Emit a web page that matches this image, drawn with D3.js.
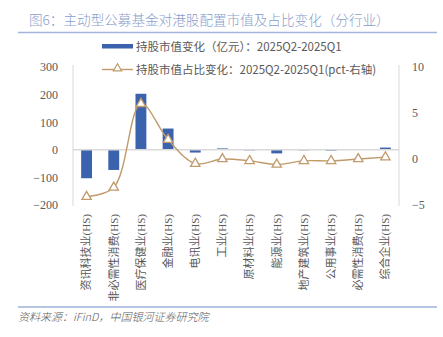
<!DOCTYPE html>
<html>
<head>
<meta charset="utf-8">
<script src="https://cdn.jsdelivr.net/npm/d3@7/dist/d3.min.js"></script>
<style>
  html, body { margin: 0; padding: 0; background: #ffffff; }
  svg { display: block; }
</style>
</head>
<body>
<svg id="chart" width="443" height="337"></svg>
<script>
// Industry categories (HS classification)
const categories = [
  "资讯科技业(HS)", "非必需性消费(HS)", "医疗保健业(HS)", "金融业(HS)",
  "电讯业(HS)", "工业(HS)", "原材料业(HS)", "能源业(HS)",
  "地产建筑业(HS)", "公用事业(HS)", "必需性消费(HS)", "综合企业(HS)"
];
// Change in holding market value, 100 million yuan (left axis)
const valueChange = [-103, -73, 203, 77, -10, 5, -2, -13, -2, -3, 2, 8];
// Change in holding share, pct (right axis)
const shareChange = [-4.1, -3.1, 6.0, 2.1, -0.5, 0.0, -0.2, -0.6, -0.2, -0.2, 0.0, 0.2];

const leftTicks = [-200, -100, 0, 100, 200, 300];
const rightTicks = [-5, 0, 5, 10];

const titleText = "图6：主动型公募基金对港股配置市值及占比变化（分行业）";
const legendBar = "持股市值变化（亿元）：2025Q2-2025Q1";
const legendLine = "持股市值占比变化：2025Q2-2025Q1(pct-右轴)";
const sourceText = "资料来源：iFinD，中国银河证券研究院";

const svg = d3.select("#chart");
const barColor = "#3a62ad";
const lineColor = "#c19a6b";
const textColor = "#595959";
const sansCJK = "'Noto Sans CJK SC', 'Noto Sans', sans-serif";
const serif = "'Liberation Serif', 'Noto Sans CJK SC', serif";

// Title and rule
svg.append("text")
  .attr("x", 29).attr("y", 25)
  .attr("font-family", sansCJK)
  .attr("font-size", 13.6)
  .attr("font-weight", 300)
  .attr("fill", "#8a9dcc")
  .text(titleText);
svg.append("line")
  .attr("x1", 18).attr("x2", 437).attr("y1", 32.5).attr("y2", 32.5)
  .attr("stroke", "#a5b4da").attr("stroke-width", 1.5);

// Plot frame
const plotL = 73, plotR = 399, plotT = 67, plotB = 205;

const x = d3.scaleBand().domain(categories).range([plotL, plotR]).paddingInner(0.6).paddingOuter(0.3);
const yL = d3.scaleLinear().domain([-200, 300]).range([plotB, plotT]);
const yR = d3.scaleLinear().domain([-5, 10]).range([plotB, plotT]);

// Vertical axis lines
[plotL, plotR].forEach(px => {
  svg.append("line")
    .attr("x1", px).attr("x2", px).attr("y1", plotT - 2).attr("y2", plotB + 1)
    .attr("stroke", "#d9d9d9").attr("stroke-width", 1);
});

// Left axis
const axisL = svg.append("g")
  .attr("transform", `translate(${plotL},0)`)
  .call(d3.axisLeft(yL).tickValues(leftTicks).tickSize(0).tickPadding(15));
axisL.select(".domain").remove();
axisL.selectAll("text")
  .attr("font-family", serif).attr("font-size", 12).attr("fill", textColor);

// Right axis
const axisR = svg.append("g")
  .attr("transform", `translate(${plotR},0)`)
  .call(d3.axisRight(yR).tickValues(rightTicks).tickSize(0).tickPadding(13));
axisR.select(".domain").remove();
axisR.selectAll("text")
  .attr("font-family", serif).attr("font-size", 12).attr("fill", textColor);

// Bars
svg.append("g").selectAll("rect")
  .data(valueChange)
  .join("rect")
  .attr("x", (d, i) => x(categories[i]))
  .attr("width", x.bandwidth())
  .attr("y", d => yL(Math.max(0, d)))
  .attr("height", d => Math.abs(yL(d) - yL(0)))
  .attr("fill", barColor);

// Zero line
svg.append("line")
  .attr("x1", plotL).attr("x2", plotR).attr("y1", yL(0)).attr("y2", yL(0))
  .attr("stroke", "#d9d9d9").attr("stroke-width", 1.5);

// Share line, smoothed
const cx = i => x(categories[i]) + x.bandwidth() / 2;
const line = d3.line()
  .x((d, i) => cx(i))
  .y(d => yR(d))
  .curve(d3.curveCatmullRom.alpha(0.5));
svg.append("path")
  .datum(shareChange)
  .attr("d", line)
  .attr("fill", "none")
  .attr("stroke", lineColor)
  .attr("stroke-width", 1.4);

const tri = d3.symbol().type(d3.symbolTriangle).size(38);
svg.append("g").selectAll("path")
  .data(shareChange)
  .join("path")
  .attr("d", tri)
  .attr("transform", (d, i) => `translate(${cx(i)},${yR(d)})`)
  .attr("fill", "#ffffff")
  .attr("stroke", lineColor)
  .attr("stroke-width", 1.3);

// Category labels, vertical
svg.append("g").selectAll("text")
  .data(categories)
  .join("text")
  .attr("transform", d => `translate(${x(d) + x.bandwidth() / 2},214) rotate(-90)`)
  .attr("text-anchor", "end")
  .attr("dy", "0.35em")
  .attr("font-family", serif)
  .attr("font-size", 11)
  .attr("fill", textColor)
  .text(d => d);

// Legend
svg.append("rect")
  .attr("x", 102).attr("y", 44).attr("width", 31).attr("height", 4.5)
  .attr("fill", barColor);
svg.append("text")
  .attr("x", 136).attr("y", 46.5).attr("dy", "0.35em")
  .attr("font-family", sansCJK).attr("font-size", 11.5).attr("fill", textColor)
  .text(legendBar);
svg.append("line")
  .attr("x1", 102).attr("x2", 133).attr("y1", 69.5).attr("y2", 69.5)
  .attr("stroke", lineColor).attr("stroke-width", 1.4);
svg.append("path")
  .attr("d", d3.symbol().type(d3.symbolTriangle).size(30))
  .attr("transform", "translate(117.5,68.5)")
  .attr("fill", "#ffffff").attr("stroke", lineColor).attr("stroke-width", 1.2);
svg.append("text")
  .attr("x", 136).attr("y", 69.5).attr("dy", "0.35em")
  .attr("font-family", sansCJK).attr("font-size", 11.5).attr("fill", textColor)
  .text(legendLine);

// Bottom rule and source
svg.append("line")
  .attr("x1", 18).attr("x2", 437).attr("y1", 307).attr("y2", 307)
  .attr("stroke", "#6f8cc6").attr("stroke-width", 1.2);
svg.append("text")
  .attr("x", 18).attr("y", 321)
  .attr("font-family", sansCJK).attr("font-size", 11).attr("font-style", "italic")
  .attr("font-weight", 300)
  .attr("fill", "#595959")
  .text(sourceText);
</script>
</body>
</html>
